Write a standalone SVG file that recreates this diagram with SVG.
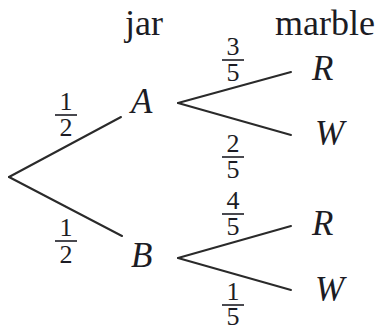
<svg xmlns="http://www.w3.org/2000/svg" width="381" height="329" viewBox="0 0 381 329">
<style>
.hdr{font-family:"Liberation Serif","Times New Roman",serif;font-size:36px;fill:#1c1c24}
.var{font-family:"Liberation Serif","Times New Roman",serif;font-style:italic;font-size:35px;fill:#1c1c24}
.num{font-family:"Liberation Serif","Times New Roman",serif;font-size:26px;fill:#1c1c24;text-anchor:middle}
.edge{stroke:#2a2a2a;stroke-width:2;fill:none;stroke-linecap:round}
.bar{stroke:#1c1c24;stroke-width:1.6}
</style>
<rect width="381" height="329" fill="#ffffff"/>
<g id="connectors">
<line class="edge" x1="9" y1="177" x2="121" y2="117"/>
<line class="edge" x1="9" y1="177" x2="122" y2="236"/>
<line class="edge" x1="178" y1="103" x2="291" y2="72"/>
<line class="edge" x1="178" y1="103" x2="291" y2="135"/>
<line class="edge" x1="178" y1="258" x2="291" y2="226"/>
<line class="edge" x1="178" y1="258" x2="291" y2="290"/>
</g>
<g id="labels">
<g id="p-A"><text class="num" x="66" y="110">1</text><line class="bar" x1="55" y1="115" x2="77" y2="115"/><text class="num" x="66" y="136">2</text></g>
<g id="p-B"><text class="num" x="66" y="236">1</text><line class="bar" x1="55" y1="241" x2="77" y2="241"/><text class="num" x="66" y="263">2</text></g>
<g id="p-AR"><text class="num" x="233" y="55">3</text><line class="bar" x1="222" y1="60" x2="244" y2="60"/><text class="num" x="233" y="81">5</text></g>
<g id="p-AW"><text class="num" x="233" y="152">2</text><line class="bar" x1="222" y1="157" x2="244" y2="157"/><text class="num" x="233" y="178">5</text></g>
<g id="p-BR"><text class="num" x="233" y="209">4</text><line class="bar" x1="222" y1="214" x2="244" y2="214"/><text class="num" x="233" y="235">5</text></g>
<g id="p-BW"><text class="num" x="233" y="300">1</text><line class="bar" x1="222" y1="305" x2="244" y2="305"/><text class="num" x="233" y="325">5</text></g>
</g>
<g id="header-jar"><text class="hdr" x="125" y="35">jar</text></g>
<g id="header-marble"><text class="hdr" x="275" y="35">marble</text></g>
<g id="node-A"><text class="var" x="131" y="113">A</text></g>
<g id="node-B"><text class="var" x="131" y="267">B</text></g>
<g id="node-AR"><text class="var" x="312" y="80">R</text></g>
<g id="node-AW"><text class="var" x="315" y="145">W</text></g>
<g id="node-BR"><text class="var" x="312" y="235">R</text></g>
<g id="node-BW"><text class="var" x="315" y="301">W</text></g>
</svg>
